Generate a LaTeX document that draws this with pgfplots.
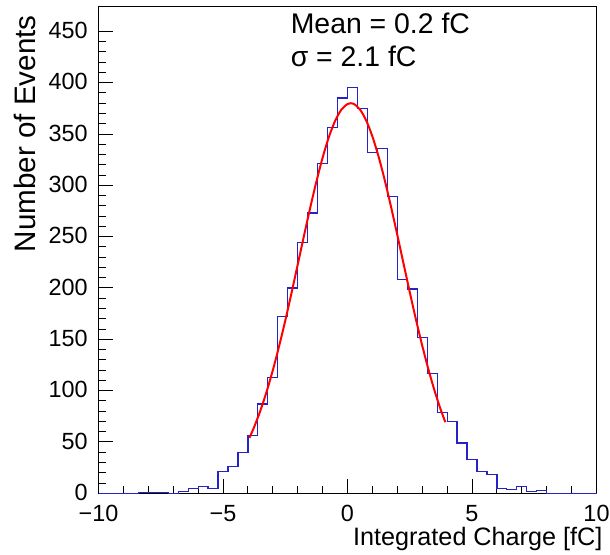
\documentclass[border=0pt]{standalone}
\usepackage{pgfplots}
\pgfplotsset{compat=1.18}
\usepackage{pgfplotstable}
\usepackage{fontspec}
\setmainfont{Liberation Sans}
\definecolor{histblue}{RGB}{35,35,200}

\pgfplotstableread{
x y
-10.0 0
-9.6 0
-9.2 0
-8.8 0
-8.4 1
-8.0 1
-7.6 1
-7.2 0
-6.8 2
-6.4 5
-6.0 7
-5.6 5
-5.2 21
-4.8 26
-4.4 40
-4.0 56
-3.6 87
-3.2 113
-2.8 172
-2.4 200
-2.0 244
-1.6 273
-1.2 321
-0.8 356
-0.4 385
0.0 395
0.4 375
0.8 332
1.2 336
1.6 289
2.0 208
2.4 199
2.8 152
3.2 117
3.6 79
4.0 70
4.4 49
4.8 33
5.2 21
5.6 18
6.0 5
6.4 4
6.8 7
7.2 2
7.6 3
8.0 0
8.4 0
8.8 0
9.2 0
9.6 0
10.0 0
}\histdata

\pgfplotstableread{
x y
-3.94 54.0
-3.75 64.5
-3.5 80.5
-3.25 98.9
-3.0 119.8
-2.75 143.0
-2.5 168.2
-2.25 195.0
-2.0 222.7
-1.75 250.6
-1.5 277.9
-1.25 303.6
-1.0 326.9
-0.75 346.9
-0.5 362.6
-0.25 373.6
0.0 379.2
0.13 380.0
0.25 379.4
0.5 373.9
0.75 363.2
1.0 347.6
1.25 327.8
1.5 304.6
1.75 278.9
2.0 251.7
2.25 223.8
2.5 196.0
2.75 169.2
3.0 144.0
3.25 120.7
3.5 99.7
3.75 81.1
3.93 69.3
}\fitdata

\begin{document}
\begin{tikzpicture}
\useasboundingbox (0,0) rectangle (305pt,277pt);
\begin{axis}[
  at={(49.25pt,30.35pt)}, anchor=south west,
  scale only axis, width=249pt, height=243.3pt,
  xmin=-10, xmax=10, ymin=0, ymax=474,
  axis line style={black, line width=0.5pt},
  tick style={black, line width=0.5pt},
  tick align=inside, xtick pos=bottom, ytick pos=left,
  major tick length=7.2pt, minor tick length=3.6pt,
  xtick={-10,-5,0,5,10},
  xticklabels={−10,−5,0,5,10},
  minor x tick num=4,
  ytick={0,50,...,450},
  minor y tick num=4,
  /pgf/number format/assume math mode=true,
  tick label style={font=\fontsize{11.7}{14}\selectfont},
  xticklabel style={yshift=-2.6pt},
  yticklabel style={xshift=-1.9pt, yshift=0.4pt},
  clip=false,
]
\addplot[const plot mark left, histblue, line width=0.6pt] table[x=x,y=y] {\histdata};
\addplot[smooth, red, line width=1pt] table[x=x,y=y] {\fitdata};
\node[anchor=base east, font=\fontsize{12.6}{14}\selectfont] at (axis description cs:1.026,-0.1063) {Integrated Charge [fC]};
\node[rotate=90, anchor=base east, font=\fontsize{14.8}{16}\selectfont] at (axis description cs:-0.127,0.997) {Number of Events};
\node[anchor=base west, font=\fontsize{14.2}{16}\selectfont] at (axis description cs:0.372,0.9453) {Mean = 0.2 fC};
\node[anchor=base west, font=\fontsize{14.2}{16}\selectfont] at (axis description cs:0.372,0.8767) {σ = 2.1 fC};
\end{axis}
\end{tikzpicture}
\end{document}
